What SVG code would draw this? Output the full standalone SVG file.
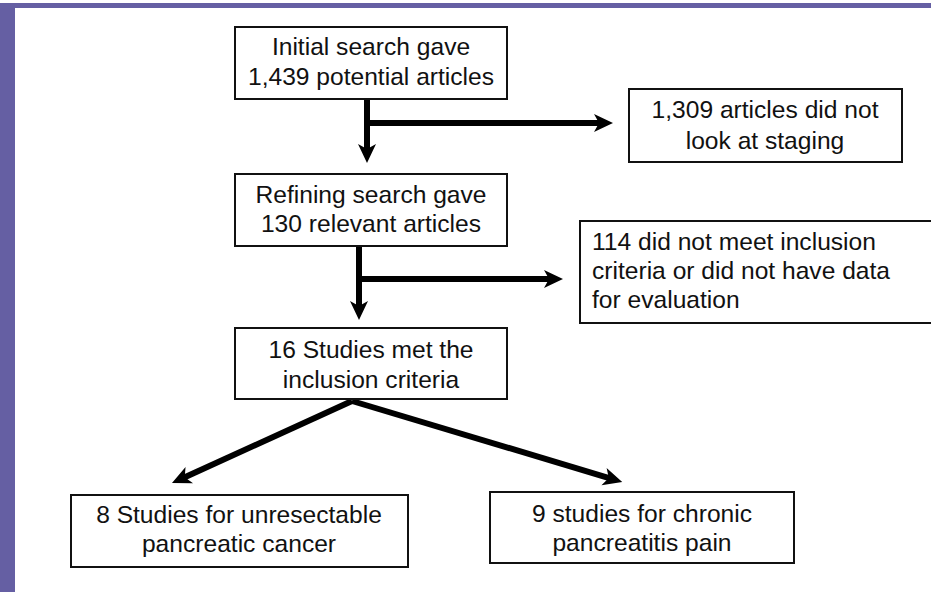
<svg xmlns="http://www.w3.org/2000/svg" width="931" height="592" viewBox="0 0 931 592">
<style>
.box{fill:#fff;stroke:#111;stroke-width:2}
.t{font-family:"Liberation Sans",Arial,sans-serif;font-size:24.6px;fill:#111}
.c{text-anchor:middle}
.ln{fill:none;stroke:#000;stroke-width:6}
</style>
<defs>
<marker id="ah" markerUnits="userSpaceOnUse" markerWidth="40" markerHeight="40" refX="0" refY="0" orient="auto" overflow="visible" viewBox="-20 -20 40 40">
<path d="M11,0 L-8,-9 L-3,0 L-8,9 Z" fill="#000"/>
</marker>
</defs>
<rect x="0" y="0" width="931" height="592" fill="#fff"/>
<g id="background">
<rect x="0" y="3" width="931" height="5" fill="#655fa3"/>
<rect x="0" y="3" width="15" height="589" fill="#655fa3"/>
</g>
<g id="connectors">
<line class="ln" x1="367" y1="99" x2="367" y2="152" marker-end="url(#ah)"/>
<line class="ln" x1="367" y1="123" x2="602" y2="123" marker-end="url(#ah)"/>
<line class="ln" x1="359" y1="246" x2="359" y2="309" marker-end="url(#ah)"/>
<line class="ln" x1="359" y1="279" x2="552" y2="279" marker-end="url(#ah)"/>
<line class="ln" x1="352" y1="401" x2="182" y2="478.5" marker-end="url(#ah)"/>
<line class="ln" x1="352" y1="401" x2="611.7" y2="478.8" marker-end="url(#ah)"/>
</g>
<g id="n1">
<rect class="box" x="235" y="27" width="272" height="72"/>
<text class="t c" x="371" y="55">Initial search gave</text>
<text class="t c" x="371" y="85">1,439 potential articles</text>
</g>
<g id="n2">
<rect class="box" x="629" y="89" width="273" height="73"/>
<text class="t c" x="765" y="118">1,309 articles did not</text>
<text class="t c" x="765" y="149">look at staging</text>
</g>
<g id="n3">
<rect class="box" x="235" y="174" width="272" height="72"/>
<text class="t c" x="371" y="203">Refining search gave</text>
<text class="t c" x="371" y="232">130 relevant articles</text>
</g>
<g id="n4">
<rect class="box" x="580" y="221" width="360" height="102"/>
<text class="t" x="592" y="250">114 did not meet inclusion</text>
<text class="t" x="592" y="279">criteria or did not have data</text>
<text class="t" x="592" y="308">for evaluation</text>
</g>
<g id="n5">
<rect class="box" x="235" y="328" width="272" height="71"/>
<text class="t c" x="371" y="358">16 Studies met the</text>
<text class="t c" x="371" y="388">inclusion criteria</text>
</g>
<g id="n6">
<rect class="box" x="71" y="495" width="337" height="72"/>
<text class="t c" x="239" y="523">8 Studies for unresectable</text>
<text class="t c" x="239" y="552">pancreatic cancer</text>
</g>
<g id="n7">
<rect class="box" x="490" y="492" width="304" height="71"/>
<text class="t c" x="642" y="522">9 studies for chronic</text>
<text class="t c" x="642" y="551">pancreatitis pain</text>
</g>
</svg>
